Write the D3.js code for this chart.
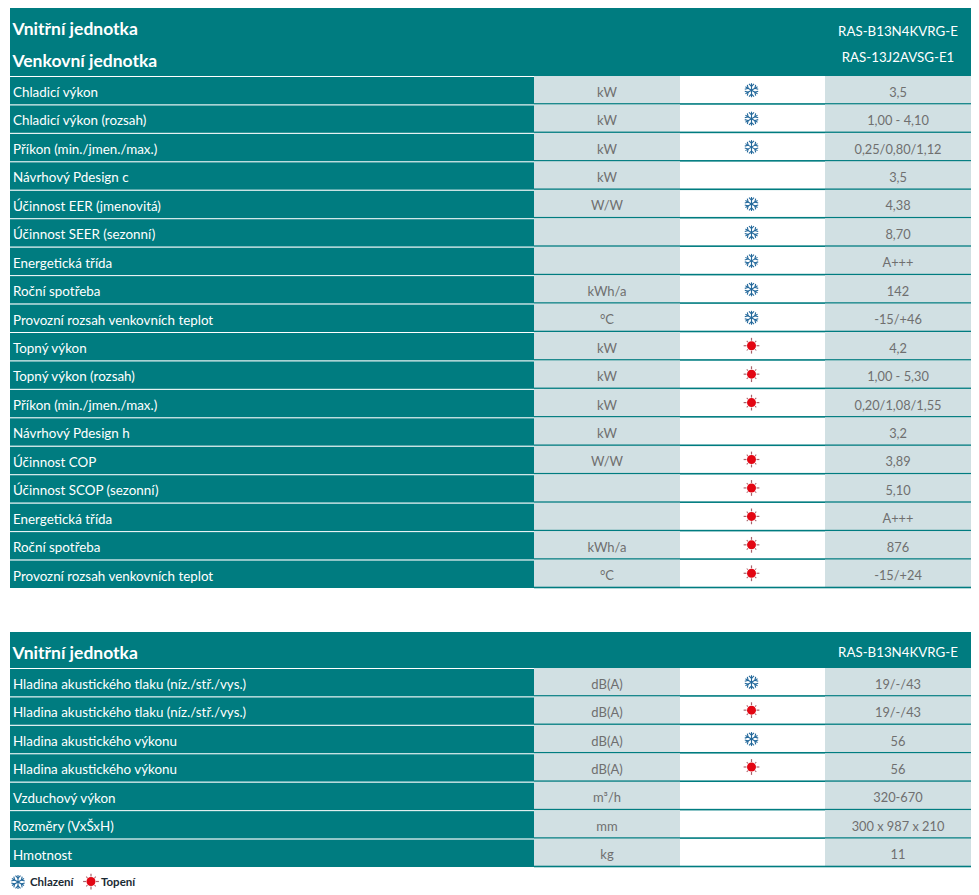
<!DOCTYPE html>
<html>
<head>
<meta charset="utf-8">
<script src="https://cdn.jsdelivr.net/npm/d3@7"></script>
<style>
html,body{margin:0;padding:0;background:#fff;}
svg{display:block;}
text{font-family:"Lato","Open Sans",sans-serif;}
</style>
</head>
<body>
<script>
var headLeft1 = ["Vnitřní jednotka","Venkovní jednotka"];
var headRight1 = ["RAS-B13N4KVRG-E","RAS-13J2AVSG-E1"];
var labels1 = ["Chladicí výkon","Chladicí výkon (rozsah)","Příkon (min./jmen./max.)","Návrhový Pdesign c","Účinnost EER (jmenovitá)","Účinnost SEER (sezonní)","Energetická třída","Roční spotřeba","Provozní rozsah venkovních teplot","Topný výkon","Topný výkon (rozsah)","Příkon (min./jmen./max.)","Návrhový Pdesign h","Účinnost COP","Účinnost SCOP (sezonní)","Energetická třída","Roční spotřeba","Provozní rozsah venkovních teplot"];
var units1 = ["kW","kW","kW","kW","W/W","","","kWh/a","°C","kW","kW","kW","kW","W/W","","","kWh/a","°C"];
var modes1 = ["c","c","c","","c","c","c","c","c","h","h","h","","h","h","h","h","h"];
var values1 = ["3,5","1,00 - 4,10","0,25/0,80/1,12","3,5","4,38","8,70","A+++","142","-15/+46","4,2","1,00 - 5,30","0,20/1,08/1,55","3,2","3,89","5,10","A+++","876","-15/+24"];

var headLeft2 = ["Vnitřní jednotka"];
var headRight2 = ["RAS-B13N4KVRG-E"];
var labels2 = ["Hladina akustického tlaku (níz./stř./vys.)","Hladina akustického tlaku (níz./stř./vys.)","Hladina akustického výkonu","Hladina akustického výkonu","Vzduchový výkon","Rozměry (VxŠxH)","Hmotnost"];
var units2 = ["dB(A)","dB(A)","dB(A)","dB(A)","m³/h","mm","kg"];
var modes2 = ["c","h","c","h","","",""];
var values2 = ["19/-/43","19/-/43","56","56","320-670","300 x 987 x 210","11"];

var legendKeys = ["c","h"];
var legendNames = ["Chlazení","Topení"];

var teal = "#007c80", grey = "#d1e0e3", txt = "#6f6f6f", blue = "#23689b", red = "#e30613";

var x = d3.scaleOrdinal()
  .domain(["label","unit","mode","value","end"])
  .range([10,534,680,825,971]);

var svg = d3.select("body").append("svg").attr("width",979).attr("height",895);

// snowflake: six arms with small barbs
function flake(g,cx,cy,r){
  var i = g.append("g").attr("transform","translate("+cx+","+cy+")")
    .attr("stroke",blue).attr("stroke-width",1.1).attr("fill","none");
  d3.range(6).forEach(function(k){
    var a = i.append("g").attr("transform","rotate("+(k*60)+")");
    a.append("line").attr("y1",0).attr("y2",-r);
    a.append("path").attr("d","M"+(-r*0.36)+","+(-r*0.9)+"L0,"+(-r*0.55)+"L"+(r*0.36)+","+(-r*0.9));
  });
}

// sun: red disc with thin rays
function sun(g,cx,cy,r){
  var i = g.append("g").attr("transform","translate("+cx+","+cy+")");
  d3.range(8).forEach(function(k){
    var long = k%2==0;
    i.append("line").attr("transform","rotate("+(k*45)+")")
      .attr("y1",-r-0.5).attr("y2",long ? -r*1.75 : -r*1.5)
      .attr("stroke","#a8626a").attr("stroke-width",long ? 1.2 : 1);
  });
  i.append("circle").attr("r",r).attr("fill",red);
}

function icon(g,key,cx,cy){
  if(key=="c") flake(g,cx,cy,7);
  if(key=="h") sun(g,cx,cy-0.5,4.5);
}

function drawTable(top,headH,rowsBottom,heads,rights,leftYs,rightYs,labels,units,modes,values){
  var g = svg.append("g");
  var y = d3.scaleBand().domain(d3.range(labels.length)).range([top+headH,rowsBottom]);

  g.append("rect").attr("x",x("label")).attr("y",top)
    .attr("width",x("end")-x("label")).attr("height",headH).attr("fill",teal);

  g.selectAll(".hl").data(heads).enter().append("text")
    .attr("x",x("label")+2.5)
    .attr("y",function(d,i){return leftYs[i];})
    .attr("font-size",17.5).attr("font-weight",700).attr("fill","#fff").text(function(d){return d;});

  g.selectAll(".hr").data(rights).enter().append("text")
    .attr("x",(x("value")+x("end"))/2)
    .attr("y",function(d,i){return rightYs[i];})
    .attr("text-anchor","middle").attr("font-size",13.3).attr("fill","#fff").text(function(d){return d;});

  var rows = g.selectAll(".row").data(labels).enter().append("g")
    .attr("transform",function(d,i){return "translate(0,"+y(i)+")";});
  var h = y.bandwidth();

  rows.append("rect").attr("x",x("label")).attr("width",x("unit")-x("label")).attr("height",h).attr("fill",teal);
  rows.append("rect").attr("x",x("unit")).attr("width",x("mode")-x("unit")).attr("height",h).attr("fill",grey);
  rows.append("rect").attr("x",x("value")).attr("width",x("end")-x("value")).attr("height",h).attr("fill",grey);

  // separators: white over the label column, teal over the rest
  rows.append("rect").attr("x",x("label")).attr("y",0).attr("width",x("unit")-x("label")).attr("height",1).attr("fill","#fff");
  rows.append("rect").attr("x",x("unit")).attr("y",h-1.3).attr("width",x("end")-x("unit")).attr("height",1.6).attr("fill",teal);

  rows.append("text").attr("x",x("label")+3).attr("y",h/2+6.8)
    .attr("font-size",13.4).attr("fill","#fff").text(function(d){return d;});
  rows.append("text").attr("x",(x("unit")+x("mode"))/2).attr("y",h/2+6.5).attr("text-anchor","middle")
    .attr("font-size",13).attr("fill",txt).text(function(d,i){return units[i];});
  rows.append("text").attr("x",(x("value")+x("end"))/2).attr("y",h/2+6.5).attr("text-anchor","middle")
    .attr("font-size",12.8).attr("fill",txt).text(function(d,i){return values[i];});

  rows.each(function(d,i){
    icon(d3.select(this),modes[i],(x("mode")+x("value"))/2-1,h/2);
  });
}

drawTable(8,68,588,headLeft1,headRight1,[35,67],[36,62],labels1,units1,modes1,values1);
drawTable(632,36,867,headLeft2,headRight2,[659],[657],labels2,units2,modes2,values2);

var legend = svg.append("g");
var legendX = d3.scaleOrdinal().domain(legendKeys).range([18,91]);
legendKeys.forEach(function(k,i){
  icon(legend,k,legendX(k),882);
  legend.append("text").attr("x",legendX(k)+(k=="c"?12:10)).attr("y",886)
    .attr("font-size",11.5).attr("font-weight",700).attr("fill","#1a2a33").text(legendNames[i]);
});
</script>
</body>
</html>
